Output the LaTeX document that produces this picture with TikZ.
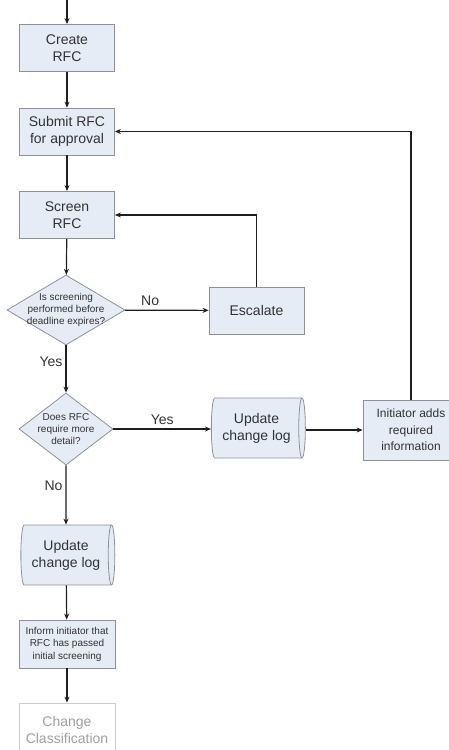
\documentclass[tikz,border=0pt]{standalone}
\usepackage{fontspec}
\setmainfont{Liberation Sans}
\usetikzlibrary{shapes.geometric,arrows.meta}
\definecolor{boxc}{HTML}{E6ECF5}
\definecolor{bordc}{HTML}{8E9196}
\definecolor{linec}{HTML}{1E1E1E}
\definecolor{txtc}{HTML}{333333}
\definecolor{greyc}{HTML}{A0A0A0}
\definecolor{greyb}{HTML}{CCCCCC}
\begin{document}
\begin{tikzpicture}[x=1pt,y=-1pt,
  proc/.style={rectangle, draw=bordc, fill=boxc, line width=0.8pt, text=txtc, align=center,
    inner sep=0pt, minimum width=95pt, minimum height=47pt, font=\fontsize{14}{17}\selectfont},
  smallproc/.style={proc, font=\fontsize{10}{12.5}\selectfont},
  midproc/.style={proc, font=\fontsize{12}{16.5}\selectfont},
  greyproc/.style={proc, draw=greyb, fill=white, text=greyc},
  dec/.style={diamond, draw=bordc, fill=boxc, line width=0.8pt, inner sep=0pt,
    minimum width=118pt, minimum height=70pt},
  dtext/.style={text=txtc, align=center, inner sep=0pt, font=\fontsize{10}{12}\selectfont},
  cyl/.style={cylinder, shape border rotate=0, shape aspect=0.22, draw=bordc, line width=0.8pt,
    cylinder uses custom fill, cylinder body fill=boxc, cylinder end fill=boxc,
    minimum width=60pt, minimum height=94pt, inner sep=0pt, text=txtc, align=center,
    font=\fontsize{14}{17}\selectfont},
  arr/.style={draw=linec, line width=1.2pt, -{Stealth[length=6pt,width=5pt]}},
  lab/.style={text=txtc, inner sep=0pt, font=\fontsize{14}{17}\selectfont}
]
\useasboundingbox (0,0) rectangle (448,750);
\coordinate (start) at (67,0);
\node[proc] (create) at (67,48) {Create\\RFC};
\node[proc] (submit) at (67,131.5) {Submit RFC\\for approval};
\node[proc] (screen) at (67,215) {Screen\\RFC};
\node[dec] (d1) at (66,310) {};
\node[dtext] at (d1) {Is screening\\performed before\\deadline expires?};
\node[proc] (esc) at (256.5,310.5) {Escalate};
\node[dec, minimum width=94pt, minimum height=72pt] (d2) at (66,429) {};
\node[dtext] at (d2) {Does RFC\\require more\\detail?};
\node[cyl] (cyl2) at (256.5,428) {Update\\change log};
\node[midproc, minimum width=96pt, minimum height=60pt] (init) at (411,430) {Initiator adds\\required\\information};
\node[cyl] (cyl1) at (66,555) {Update\\change log};
\node[smallproc, minimum width=96pt, minimum height=48pt] (inform) at (67,644) {Inform initiator that\\RFC has passed\\initial screening};
\node[greyproc, minimum width=96pt, minimum height=54pt] (chg) at (67,730) {Change\\Classification};

\draw[arr] (start) -- (create);
\draw[arr] (create) -- (submit);
\draw[arr] (submit) -- (screen);
\draw[arr] (screen) -- (d1);
\draw[arr] (d1) -- node[lab, above=4pt, pos=0.3] {No} (esc);
\draw[arr] (esc.north) |- (screen.east);
\draw[arr] (d1) -- node[lab, left=3pt, pos=0.35] {Yes} (d2);
\draw[arr] (d2.east) -- node[lab, above=4pt, pos=0.5] {Yes} (cyl2.west |- d2.east);
\draw[arr] (cyl2.east |- init.west) -- (init.west);
\draw[arr] (init.north) |- (submit.east);
\draw[arr] (d2) -- node[lab, left=3pt, pos=0.35] {No} (cyl1);
\draw[arr] (cyl1) -- (inform);
\draw[arr] (inform) -- (chg);
\end{tikzpicture}
\end{document}
